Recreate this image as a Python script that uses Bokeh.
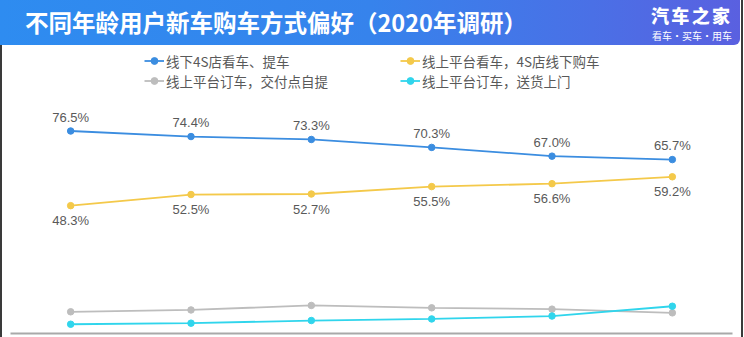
from bokeh.plotting import figure
from bokeh.models import (Range1d, LinearAxis, FixedTicker, Legend, LegendItem,
                          ColumnDataSource, Div)
from bokeh.layouts import column
from bokeh.core.properties import value
from bokeh.embed import file_html
from bokeh.resources import INLINE

# ---------------- data ----------------
title_text = "不同年龄用户新车购车方式偏好（2020年调研）"
logo_text = "汽车之家"
slogan_text = "看车·买车·用车"

age_group_index = [0, 1, 2, 3, 4, 5]   # six age groups (labels not visible in source)

series_names = ["线下4S店看车、提车", "线上平台看车，4S店线下购车",
                "线上平台订车，交付点自提", "线上平台订车，送货上门"]
offline_4s = [76.5, 74.4, 73.3, 70.3, 67.0, 65.7]
online_view_4s_buy = [48.3, 52.5, 52.7, 55.5, 56.6, 59.2]
online_order_pickup = [8.2, 8.9, 10.6, 9.7, 9.2, 7.8]
online_order_delivery = [3.5, 3.9, 4.9, 5.5, 6.6, 10.3]

colors = ["#3b8de0", "#f4c94a", "#bdbdbd", "#30d5ec"]

CJK = "Noto Sans CJK SC"

# ---------------- title bar ----------------
bar_html = f"""
<div style="position:relative;width:740px;height:45px;
 background:linear-gradient(90deg,#2e8cf0 0%,#3683ec 50%,#4a70e6 80%,#5a60e0 100%);
 border-bottom-right-radius:6px;font-family:'{CJK}';color:#ffffff;overflow:hidden;">
 <div style="position:absolute;left:25px;top:5px;font-size:23.5px;font-weight:bold;
   line-height:34px;white-space:nowrap;">{title_text}</div>
 <div style="position:absolute;left:651px;top:5px;width:79px;font-size:18px;font-weight:900;
   line-height:20px;white-space:nowrap;text-align:justify;text-align-last:justify;">{logo_text}</div>
 <div style="position:absolute;left:652px;top:29.5px;width:77px;font-size:10px;
   line-height:12px;white-space:nowrap;text-align:justify;text-align-last:justify;">{slogan_text}</div>
</div>
"""
bar = Div(text=bar_html, width=744, height=45, margin=(0, 0, 0, 0))

# ---------------- chart ----------------
p = figure(width=744, height=292, output_backend="svg", toolbar_location=None,
           x_range=Range1d(-0.5, 5.5), y_range=Range1d(0, 108.8),
           x_axis_location=None, y_axis_location=None,
           min_border_left=10, min_border_right=12, min_border_top=0,
           min_border_bottom=4, margin=(0, 0, 0, 0))
p.outline_line_color = None
p.grid.visible = False
p.background_fill_color = None
p.border_fill_color = None

xaxis = LinearAxis(ticker=FixedTicker(ticks=[]), axis_line_color="#a9a9a9",
                   axis_line_width=2, major_tick_line_color=None,
                   minor_tick_line_color=None, major_label_standoff=0,
                   major_tick_out=0, major_tick_in=0)
p.add_layout(xaxis, "below")

all_series = [offline_4s, online_view_4s_buy, online_order_pickup, online_order_delivery]
items = []
for name, vals, c in zip(series_names, all_series, colors):
    src = ColumnDataSource(dict(x=age_group_index, y=vals,
                                lab=[f"{v:.1f}%" for v in vals]))
    ln = p.line("x", "y", source=src, line_color=c, line_width=1.8)
    sc = p.scatter("x", "y", source=src, size=6.5, fill_color=c, line_color=c)
    items.append(LegendItem(label=name, renderers=[ln, sc]))
    if vals is offline_4s:
        p.text("x", "y", text="lab", source=src, y_offset=-14, text_align="center",
               text_baseline="middle", text_font=value("Liberation Sans"),
               text_font_size="13px", text_color="#595959")
    elif vals is online_view_4s_buy:
        p.text("x", "y", text="lab", source=src, y_offset=15, text_align="center",
               text_baseline="middle", text_font=value("Liberation Sans"),
               text_font_size="13px", text_color="#595959")

def make_legend(its, vx):
    return Legend(items=its, location=(vx, 242.5), orientation="vertical",
                  padding=0, margin=0, spacing=0, glyph_width=20, glyph_height=17,
                  label_height=17, label_standoff=2, background_fill_alpha=0,
                  border_line_alpha=0, label_text_font=CJK,
                  label_text_font_size="13.5px", label_text_color="#595959")

p.add_layout(make_legend([items[0], items[2]], 134))
p.add_layout(make_legend([items[1], items[3]], 390))

layout = column(bar, p, width=744, spacing=0,
                styles={"background": "#ffffff",
                        "box-shadow": "inset 2px 0 0 #3a3a3a, inset -1px 0 0 #ffffff, inset -3px 0 0 #3a3a3a"})

open("out.html", "w").write(file_html(layout, INLINE))
